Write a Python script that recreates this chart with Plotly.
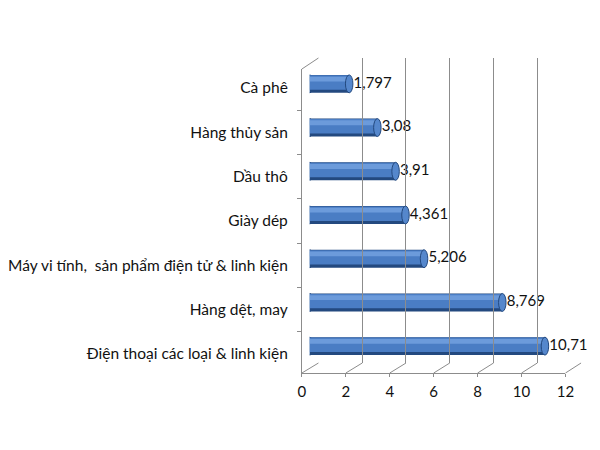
import plotly.graph_objects as go

# export values (top to bottom as in the chart)
categories = [
    "Cà phê",
    "Hàng thủy sản",
    "Dầu thô",
    "Giày dép",
    "Máy vi tính,  sản phẩm điện tử & linh kiện",
    "Hàng dệt, may",
    "Điện thoại các loại & linh kiện",
]
values = [1.797, 3.08, 3.91, 4.361, 5.206, 8.769, 10.71]
value_labels = [str(v).replace(".", ",") for v in values]
x_ticks = [0, 2, 4, 6, 8, 10, 12]

# the page body keeps its default 8px margin, so the figure is made
# smaller than the 600x450 window to avoid any scrolling
PAD = 8
W, H = 600 - 2 * PAD, 450 - 2 * PAD - 12
FONT = "Lato"
GRID = "#8c8c8c"


def px_x(p):
    return (p - PAD) / W


def px_y(p):
    return 1 - (p - PAD) / H


# window-pixel layout of the fake 3D box
front_x = (303, 574)   # front axis, 0..12
back_x = (320, 590)    # back wall, 0..12
bar_x = (311, 582)     # bars sit midway in depth
front_y = (69, 373)
back_y = (58, 363)
bar_y = (62, 368)

fig = go.Figure()

# cylinder-ish bars: dark body, mid tone, highlight
for width, offset, color in [(0.41, -0.205, "#23497f"),
                             (0.33, -0.195, "#4a7dc4"),
                             (0.11, -0.165, "#6c9bdb")]:
    fig.add_trace(go.Bar(
        x=values, y=categories, orientation="h",
        width=width, offset=offset,
        marker=dict(color=color, line=dict(width=0)),
        hoverinfo="skip", showlegend=False,
        xaxis="x", yaxis="y",
    ))

# value labels, just right of the cylinder caps
fig.add_trace(go.Scatter(
    x=[v + 0.2 for v in values], y=categories, mode="text",
    text=value_labels, textposition="middle right",
    textfont=dict(family=FONT, size=15, color="#111111"),
    hoverinfo="skip", showlegend=False, cliponaxis=False,
    xaxis="x", yaxis="y",
))

# invisible trace to populate the front axes
fig.add_trace(go.Scatter(
    x=values, y=categories, mode="markers",
    marker=dict(opacity=0), hoverinfo="skip", showlegend=False,
    xaxis="x3", yaxis="y3",
))

# an empty trace so the back wall axes get drawn
fig.add_trace(go.Scatter(
    x=[0], y=[0], mode="markers", marker=dict(opacity=0),
    hoverinfo="skip", showlegend=False, xaxis="x2", yaxis="y2",
))

shapes = []
# end caps of the cylinders
for i, v in enumerate(values):
    shapes.append(dict(type="circle", xref="x", yref="y",
                       x0=-0.17, x1=0.17, y0=i - 0.205, y1=i + 0.205,
                       fillcolor="#3a6bb0", line=dict(color="#23497f", width=1),
                       layer="between"))
    shapes.append(dict(type="circle", xref="x", yref="y",
                       x0=v - 0.17, x1=v + 0.17, y0=i - 0.205, y1=i + 0.205,
                       fillcolor="#5587cc", line=dict(color="#23497f", width=1)))

# floor depth lines from each front tick to the back wall
for t in x_ticks:
    fx = front_x[0] + t / 12 * (front_x[1] - front_x[0])
    bx = back_x[0] + t / 12 * (back_x[1] - back_x[0])
    shapes.append(dict(type="line", xref="paper", yref="paper",
                       x0=px_x(fx), y0=px_y(front_y[1]),
                       x1=px_x(bx), y1=px_y(back_y[1]),
                       line=dict(color=GRID, width=1)))
# top edge of the side wall
shapes.append(dict(type="line", xref="paper", yref="paper",
                   x0=px_x(front_x[0]), y0=px_y(front_y[0]),
                   x1=px_x(back_x[0]), y1=px_y(back_y[0]),
                   line=dict(color=GRID, width=1)))

fig.update_layout(
    width=W, height=H,
    margin=dict(l=0, r=0, t=0, b=0),
    paper_bgcolor="white", plot_bgcolor="rgba(0,0,0,0)",
    barmode="overlay",
    shapes=shapes,
    font=dict(family=FONT, size=15, color="#111111"),
    # bars
    xaxis=dict(domain=[px_x(bar_x[0]), px_x(bar_x[1])], range=[0, 12],
               visible=False, anchor="y"),
    yaxis=dict(domain=[px_y(bar_y[1]), px_y(bar_y[0])], visible=False,
               autorange="reversed", anchor="x", type="category"),
    # back wall grid
    xaxis2=dict(domain=[px_x(back_x[0]), px_x(back_x[1])],
                range=[-0.001, 12.001], tickvals=x_ticks,
                showgrid=True, gridcolor=GRID, gridwidth=1,
                zeroline=False, showticklabels=False, ticks="",
                showline=False, anchor="y2"),
    yaxis2=dict(domain=[px_y(back_y[1]), px_y(back_y[0])], range=[0, 1],
                showgrid=False, zeroline=False, showticklabels=False,
                anchor="x2"),
    # front axes with labels
    xaxis3=dict(domain=[px_x(front_x[0]), px_x(front_x[1])], range=[0, 12],
                tickvals=x_ticks, showgrid=False, zeroline=False,
                showline=True, linecolor=GRID, linewidth=1,
                ticks="outside", ticklen=3, tickcolor=GRID,
                ticklabelstandoff=2,
                tickfont=dict(family=FONT, size=15, color="#111111"),
                anchor="y3"),
    yaxis3=dict(domain=[px_y(front_y[1]), px_y(front_y[0])], type="category",
                categoryarray=categories, autorange="reversed",
                showgrid=False, zeroline=False,
                showline=True, linecolor=GRID, linewidth=1,
                ticks="outside", ticklen=4, tickcolor=GRID,
                tickson="boundaries", ticklabelstandoff=10,
                tickfont=dict(family=FONT, size=15.5, color="#111111"),
                anchor="x3"),
)

fig.write_html("out.html")
